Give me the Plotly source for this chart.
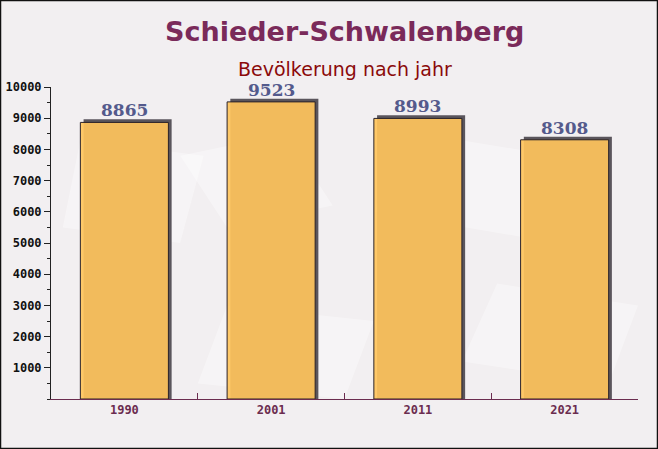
import plotly.graph_objects as go

years = ["1990", "2001", "2011", "2021"]
population = [8865, 9523, 8993, 8308]
y_ticks = [1000, 2000, 3000, 4000, 5000, 6000, 7000, 8000, 9000, 10000]

title = "Schieder-Schwalenberg"
subtitle = "Bevölkerung nach jahr"

# shadow offset expressed in data units (~3px)
shadow_dx = 0.022
shadow_dy = 100

fig = go.Figure()

fig.add_trace(go.Bar(
    x=years, y=[v + shadow_dy for v in population],
    width=0.6, offset=-0.3 + shadow_dx,
    marker=dict(color="#5a555c", line=dict(width=0)),
    hoverinfo="skip", showlegend=False,
))
fig.add_trace(go.Bar(
    x=years, y=population,
    width=0.6, offset=-0.3,
    marker=dict(color="rgba(255,196,92,0.92)", line=dict(color="#2a2228", width=1)),
    showlegend=False,
))

for i, v in enumerate(population):
    fig.add_annotation(
        x=i, y=v, xref="x", yref="y", text=f"<b>{v}</b>", showarrow=False,
        yanchor="bottom", yshift=0,
        font=dict(family="DejaVu Serif", size=17, color="#545a8c"),
    )

fig.add_annotation(x=0.5, y=32, xref="paper", yref="paper", text=f"<b>{title}</b>",
                   showarrow=False, xanchor="center", yanchor="middle",
                   font=dict(family="DejaVu Sans", size=27, color="#7a2a5a"))
fig.add_annotation(x=0.5, y=69, xref="paper", yref="paper", text=subtitle,
                   showarrow=False, xanchor="center", yanchor="middle",
                   font=dict(family="DejaVu Sans", size=19, color="#8b0a0a"))

# faint decorative background shapes (envelopes)
bg_shapes = [
    "M 0.02 0.55 L 0.22 0.50 L 0.26 0.78 L 0.05 0.83 Z",
    "M 0.25 0.05 L 0.50 0.00 L 0.55 0.25 L 0.30 0.30 Z",
    "M 0.55 0.60 L 0.80 0.52 L 0.86 0.78 L 0.60 0.86 Z",
    "M 0.70 0.12 L 0.95 0.05 L 1.00 0.30 L 0.76 0.37 Z",
    "M 0.30 0.55 L 0.48 0.62 L 0.40 0.85 L 0.22 0.78 Z",
]
shapes = []
for p in bg_shapes:
    shapes.append(dict(type="path", path=p, xref="paper", yref="paper",
                       fillcolor="rgba(255,255,255,0.35)", line=dict(width=0), layer="below"))

L, R, T, B = 51, 20, 87, 50
W, H = 658, 449
pw, ph = W - L - R, H - T - B

fig.update_layout(
    width=W, height=H,
    margin=dict(l=L, r=R, t=T, b=B, autoexpand=False),
    paper_bgcolor="#f2eff1",
    plot_bgcolor="rgba(0,0,0,0)",
    barmode="overlay",
    xaxis=dict(
        type="category", tickson="boundaries", ticks="inside", ticklen=6,
        tickcolor="#6b2c4f", showline=True, linecolor="#6b2c4f", linewidth=1,
        tickfont=dict(family="DejaVu Sans Mono", size=12, color="#6b2c4f", weight="bold"),
        showgrid=False, range=[-0.5, 3.5],
    ),
    yaxis=dict(
        range=[0, 10000], tickvals=y_ticks, tickformat="d", ticks="outside", ticklen=6,
        tickcolor="#222", showline=True, linecolor="#222", linewidth=1,
        tickfont=dict(family="DejaVu Sans Mono", size=12, color="#111", weight="bold"),
        showgrid=False, zeroline=False,
        minor=dict(dtick=500, ticks="outside", ticklen=3, tickcolor="#222", showgrid=False),
    ),
    shapes=shapes,
)
# convert title/subtitle pixel positions into paper coords
for ann in fig.layout.annotations:
    if ann.xref == "paper" and ann.yref == "paper":
        ann.y = 1 + (T - ann.y) / ph

fig.add_shape(type="rect", xref="paper", yref="paper",
              x0=-(L - 0.5) / pw, x1=1 + (R - 0.5) / pw,
              y0=-(B - 0.5) / ph, y1=1 + (T - 0.5) / ph,
              line=dict(color="#111", width=1.5), layer="above")

fig.write_html("out.html", config={"displayModeBar": False},
               post_script="document.body.style.margin='0';document.body.style.overflow='hidden';")
